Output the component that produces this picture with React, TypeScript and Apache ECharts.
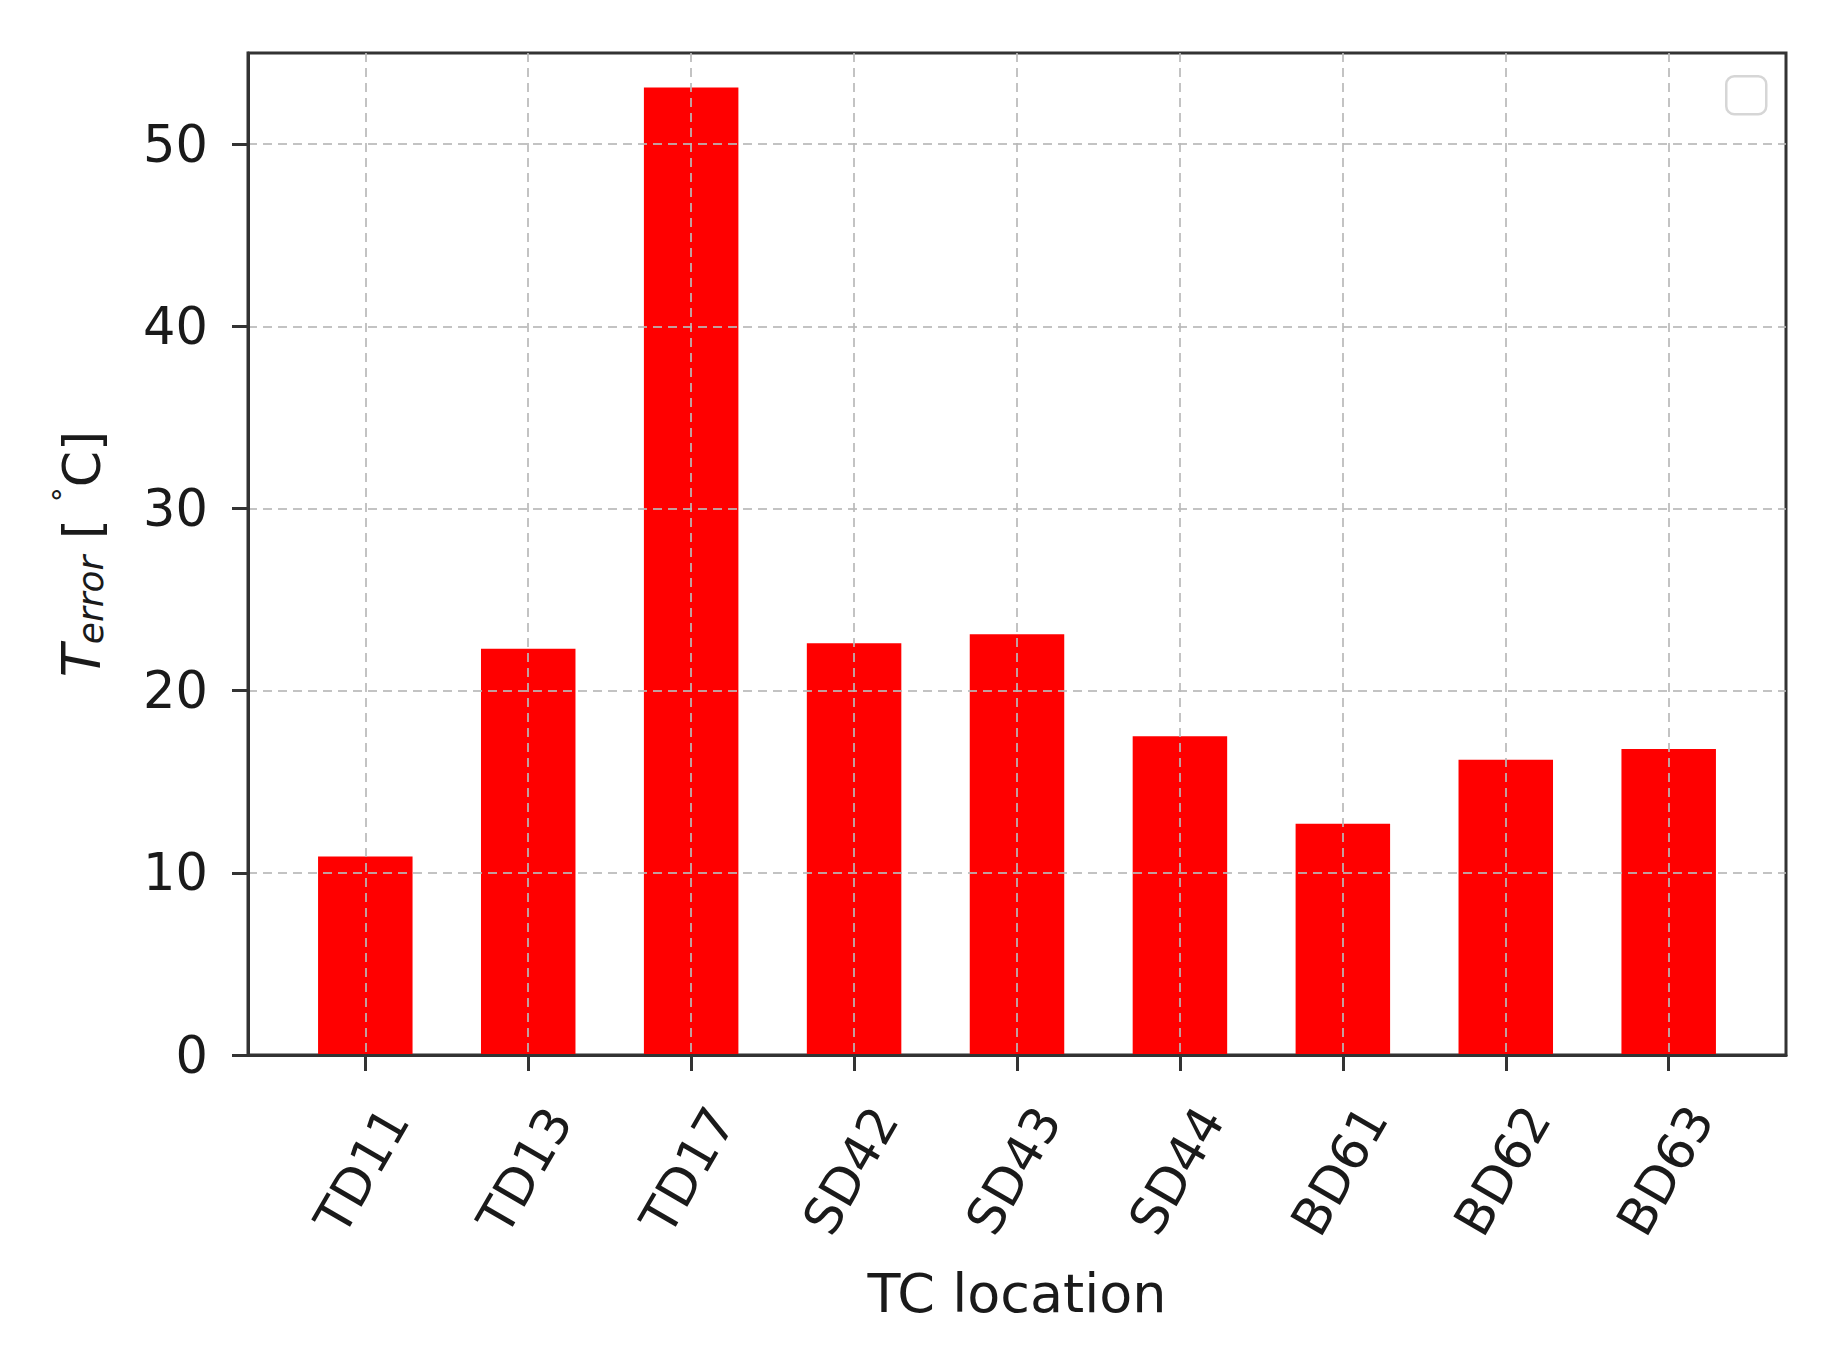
import React, { useEffect, useRef } from 'react';
import * as echarts from 'echarts';

const categories = ['TD11', 'TD13', 'TD17', 'SD42', 'SD43', 'SD44', 'BD61', 'BD62', 'BD63'];
const errorValues = [10.9, 22.3, 53.1, 22.6, 23.1, 17.5, 12.7, 16.2, 16.8];
const yTicks = [0, 10, 20, 30, 40, 50];
const xTicks = categories.map((_, i) => i);

export default function App() {
  const ref = useRef<HTMLDivElement>(null);
  useEffect(() => {
    const chart = echarts.init(ref.current!, null, { renderer: 'svg' });
    const font = 'DejaVu Sans';
    const ink = '#1a1a1a';
    const axisColor = '#333333';
    const gridLine = {
      show: true,
      lineStyle: { color: 'rgba(185,185,185,0.85)', type: [9, 6], width: 2 },
    };
    chart.setOption({
      animation: false,
      backgroundColor: '#ffffff',
      grid: {
        left: 248,
        right: 36,
        top: 53,
        bottom: 303,
        show: true,
        borderColor: axisColor,
        borderWidth: 3,
        backgroundColor: 'transparent',
      },
      xAxis: {
        type: 'value',
        min: -0.72,
        max: 8.72,
        z: 3,
        name: 'TC location',
        nameLocation: 'middle',
        nameGap: 238,
        nameTextStyle: { fontFamily: font, fontSize: 54, color: ink, verticalAlign: 'middle' },
        axisLine: { show: true, onZero: false, lineStyle: { color: axisColor, width: 3 } },
        axisTick: { show: true, customValues: xTicks, length: 16, lineStyle: { color: axisColor, width: 3 } },
        axisLabel: {
          customValues: xTicks,
          formatter: (v: number) => categories[Math.round(v)] ?? '',
          rotate: 60,
          align: 'center',
          verticalAlign: 'middle',
          margin: 110,
          padding: [0, 13, 22, 0],
          fontFamily: font,
          fontSize: 51,
          color: ink,
        },
        splitLine: gridLine,
      },
      yAxis: {
        type: 'value',
        min: 0,
        max: 55,
        interval: 10,
        z: 3,
        name: '{i|T}{s|error}{n| [ }{d|°}{n|C]}',
        nameLocation: 'middle',
        nameGap: 170,
        nameTextStyle: {
          fontFamily: font,
          fontSize: 52,
          color: ink,
          align: 'center',
          verticalAlign: 'middle',
          rich: {
            i: { fontFamily: font, fontStyle: 'italic', fontSize: 54, lineHeight: 60, verticalAlign: 'bottom', color: ink },
            s: { fontFamily: font, fontStyle: 'italic', fontSize: 36, lineHeight: 30, verticalAlign: 'bottom', color: ink },
            n: { fontFamily: font, fontSize: 52, lineHeight: 60, verticalAlign: 'bottom', color: ink },
            d: { fontFamily: font, fontSize: 30, lineHeight: 36, verticalAlign: 'top', color: ink },
          },
        },
        axisLine: { show: true, onZero: false, lineStyle: { color: axisColor, width: 3 } },
        axisTick: { show: true, customValues: yTicks, length: 16, lineStyle: { color: axisColor, width: 3 } },
        axisLabel: { customValues: yTicks, margin: 40, fontFamily: font, fontSize: 51, color: ink },
        splitLine: gridLine,
      },
      series: [
        {
          type: 'bar',
          data: categories.map((_, i) => [i, errorValues[i]]),
          barWidth: '58%',
          itemStyle: { color: '#ff0000' },
          z: 2,
        },
      ],
      graphic: [
        {
          type: 'rect',
          left: 1725,
          top: 75,
          shape: { width: 40, height: 38, r: 8 },
          style: { fill: '#ffffff', stroke: '#d6d6d6', lineWidth: 2.5 },
          z: 10,
        },
      ],
    });
    return () => chart.dispose();
  }, []);
  return (
    <div
      ref={ref}
      style={{ position: 'fixed', left: 0, top: 0, width: 1822, height: 1358, background: '#fff' }}
    />
  );
}
